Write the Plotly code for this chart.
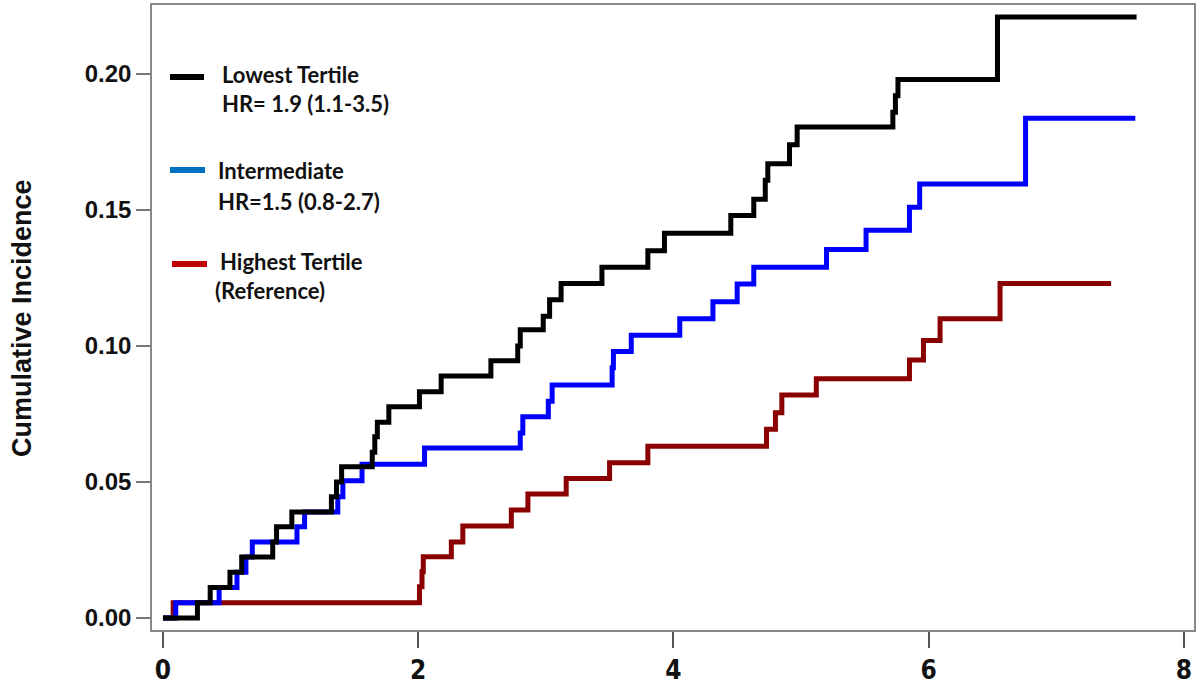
import plotly.graph_objects as go

# ---- data ----
low_time = [0, 0.27, 0.37, 0.525, 0.617, 0.86, 0.89, 1.01, 1.32, 1.36, 1.40, 1.64, 1.66, 1.68, 1.77,
            2.01, 2.18, 2.57, 2.78, 2.80, 2.98, 3.03, 3.12, 3.44, 3.80, 3.93, 4.45, 4.63, 4.72, 4.74,
            4.91, 4.97, 5.72, 5.74, 5.76, 6.54, 7.63]
low_ci = [0, 0.0056, 0.0112, 0.0168, 0.0224, 0.028, 0.0336, 0.039, 0.0446, 0.050, 0.0556, 0.061,
          0.0667, 0.072, 0.0777, 0.0832, 0.089, 0.0946, 0.100, 0.106, 0.111, 0.117, 0.123, 0.129,
          0.135, 0.1415, 0.148, 0.154, 0.161, 0.167, 0.174, 0.1805, 0.186, 0.192, 0.198, 0.221, 0.221]

mid_time = [0, 0.10, 0.44, 0.58, 0.65, 0.70, 1.05, 1.11, 1.37, 1.41, 1.56, 2.05, 2.80, 2.82, 3.02,
            3.05, 3.52, 3.53, 3.67, 4.05, 4.31, 4.50, 4.63, 5.20, 5.51, 5.85, 5.93, 6.76, 7.62]
mid_ci = [0, 0.0056, 0.0112, 0.0168, 0.0224, 0.028, 0.0336, 0.039, 0.0446, 0.0505, 0.0565, 0.0625,
          0.068, 0.074, 0.0797, 0.0857, 0.092, 0.098, 0.104, 0.110, 0.1163, 0.1228, 0.129, 0.1355,
          0.1426, 0.151, 0.1596, 0.1838, 0.1838]

high_time = [0, 0.08, 2.01, 2.03, 2.04, 2.26, 2.35, 2.73, 2.86, 3.16, 3.50, 3.80, 4.73, 4.80, 4.85,
             5.12, 5.85, 5.96, 6.09, 6.56, 7.43]
high_ci = [0, 0.0056, 0.0115, 0.017, 0.0225, 0.028, 0.0338, 0.0397, 0.0456, 0.0513, 0.0571, 0.0632,
           0.0694, 0.0755, 0.082, 0.088, 0.0949, 0.102, 0.110, 0.123, 0.123]

x_ticks = [0, 2, 4, 6, 8]
y_ticks = [0.00, 0.05, 0.10, 0.15, 0.20]
y_tick_labels = ["0.00", "0.05", "0.10", "0.15", "0.20"]

legend_lines = [
    ("Lowest Tertile", "HR= 1.9 (1.1-3.5)", "#000000"),
    ("Intermediate", "HR=1.5 (0.8-2.7)", "#0070C0"),
    ("Highest Tertile", "(Reference)", "#C00000"),
]

# ---- layout geometry (pixels) ----
W, H = 1204, 694
ML, MR, MT, MB = 152, 10, 5, 64
PW, PH = W - ML - MR, H - MT - MB


def px(xp):
    return (xp - ML) / PW


def py(yp):
    return (H - MB - yp) / PH


fig = go.Figure()
for t, v, col in [(high_time, high_ci, "#8B0000"),
                  (mid_time, mid_ci, "#0000FF"),
                  (low_time, low_ci, "#000000")]:
    fig.add_trace(go.Scatter(x=t, y=v, mode="lines", line=dict(color=col, width=5, shape="hv"),
                             showlegend=False, hoverinfo="skip"))

# legend (drawn manually)
sw = [(170, 204, 77), (170, 205, 170), (172, 207, 264)]
txt_pos = [((220, 74), (220, 104)), ((216, 170), (216, 201)), ((218, 261), (213, 290))]
shapes = []
annotations = []
for (l1, l2, col), (x0, x1, yc), ((tx1, ty1), (tx2, ty2)) in zip(legend_lines, sw, txt_pos):
    shapes.append(dict(type="line", xref="paper", yref="paper", x0=px(x0), x1=px(x1),
                       y0=py(yc), y1=py(yc), line=dict(color=col, width=6)))
    for s, tx, ty in [(l1, tx1, ty1), (l2, tx2, ty2)]:
        annotations.append(dict(text=s, xref="paper", yref="paper", x=px(tx), y=py(ty),
                                xanchor="left", yanchor="middle", showarrow=False,
                                font=dict(family="Lato, Carlito, Arial", size=22, color="#111111",
                                          weight="bold")))

annotations.append(dict(text="Cumulative Incidence", xref="paper", yref="paper",
                        x=px(22), y=py(318), textangle=-90, showarrow=False,
                        xanchor="center", yanchor="middle",
                        font=dict(family="Liberation Sans, Arial", size=27, color="#111111",
                                  weight="bold")))

fig.update_layout(
    width=W, height=H,
    margin=dict(l=ML, r=MR, t=MT, b=MB, autoexpand=False),
    plot_bgcolor="white", paper_bgcolor="white",
    shapes=shapes, annotations=annotations,
    showlegend=False,
)
fig.update_xaxes(range=[-0.086, 8.08], tickvals=x_ticks, ticks="outside", ticklen=16,
                 tickcolor="#555555", tickwidth=1.5, showgrid=False, zeroline=False,
                 showline=True, linecolor="#888888", linewidth=1.5, mirror=True,
                 automargin=False,
                 tickfont=dict(family="Liberation Sans Narrow, DejaVu Sans Condensed, Liberation Sans",
                               size=26, color="#111111", weight="bold"))
fig.update_yaxes(range=[-0.0044, 0.2254], tickvals=y_ticks, ticktext=y_tick_labels,
                 ticks="outside", ticklen=14, tickcolor="#777777", tickwidth=1.5,
                 showgrid=False, zeroline=False, showline=True, linecolor="#888888",
                 linewidth=1.5, mirror=True, automargin=False,
                 tickfont=dict(family="Liberation Sans, Arial", size=24, color="#111111",
                               weight="bold"))

fig.write_html("out.html", config={"displayModeBar": False},
               post_script="document.body.style.margin='0';")
